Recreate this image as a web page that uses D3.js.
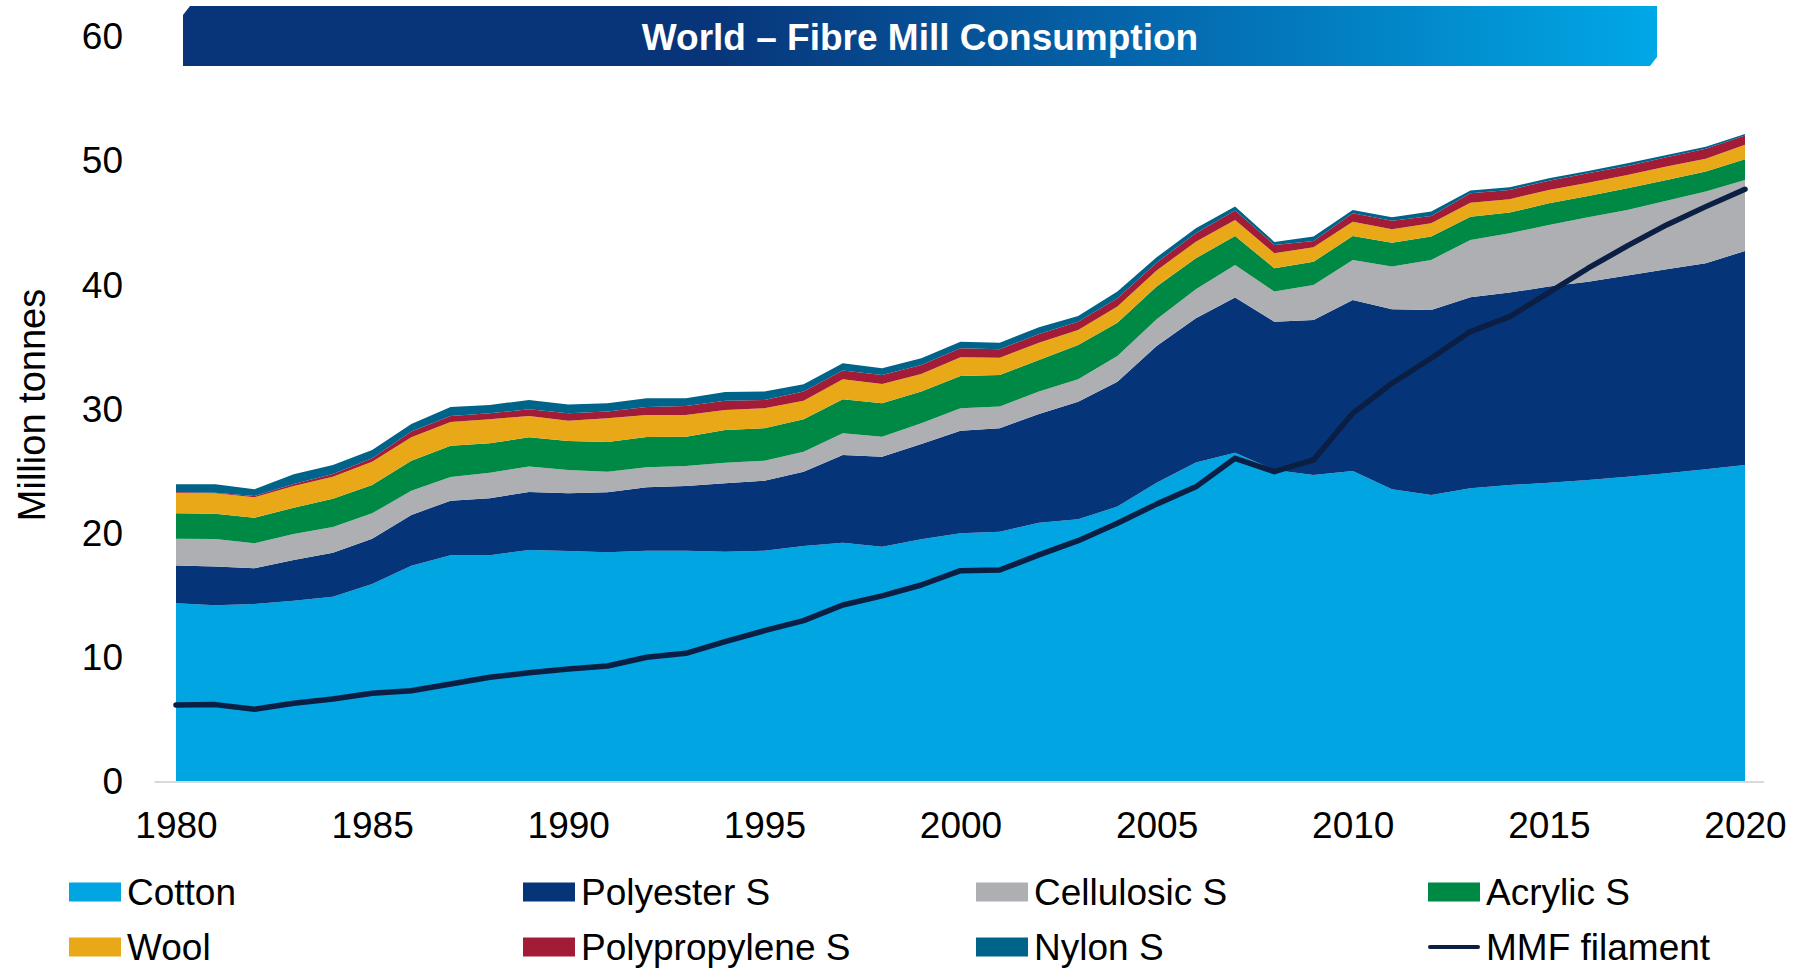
<!DOCTYPE html>
<html>
<head>
<meta charset="utf-8">
<script src="https://cdn.jsdelivr.net/npm/d3@7/dist/d3.min.js"></script>
<style>
  html, body { margin: 0; padding: 0; background: #ffffff; }
  svg { display: block; font-family: "Liberation Sans", Arial, sans-serif; }
</style>
</head>
<body>
<svg id="chart" width="1805" height="968"></svg>
<script>
// ---------- DATA ----------
const years = d3.range(1980, 2021);
const yTicks = [0, 10, 20, 30, 40, 50, 60];
const xTicks = [1980, 1985, 1990, 1995, 2000, 2005, 2010, 2015, 2020];

const cotton = [14.3, 14.15, 14.25, 14.52, 14.84, 15.86, 17.33, 18.17, 18.17, 18.6,
  18.52, 18.42, 18.54, 18.54, 18.46, 18.54, 18.92, 19.19, 18.86, 19.46,
  19.94, 20.07, 20.8, 21.07, 22.09, 24.02, 25.64, 26.43, 25.04, 24.64,
  24.96, 23.48, 23.03, 23.57, 23.83, 24.02, 24.24, 24.5, 24.77, 25.1, 25.44];
const polyesterS = [3.04, 3.12, 2.87, 3.27, 3.54, 3.65, 4.09, 4.4, 4.59, 4.67,
  4.64, 4.82, 5.11, 5.21, 5.51, 5.64, 5.98, 7.06, 7.25, 7.67,
  8.26, 8.33, 8.75, 9.47, 10.06, 11.0, 11.61, 12.49, 11.94, 12.48,
  13.77, 14.5, 14.89, 15.38, 15.49, 15.78, 15.96, 16.19, 16.43, 16.58, 17.23];
const cellulosicS = [2.17, 2.21, 2.01, 2.1, 2.07, 2.04, 1.94, 1.91, 2.06, 2.04,
  1.88, 1.66, 1.61, 1.61, 1.66, 1.61, 1.61, 1.75, 1.61, 1.67,
  1.8, 1.74, 1.8, 1.8, 2.07, 2.15, 2.34, 2.63, 2.42, 2.82,
  3.22, 3.43, 4.03, 4.61, 4.78, 4.97, 5.18, 5.28, 5.52, 5.77, 5.72];
const acrylicS = [2.04, 2.04, 2.07, 2.11, 2.28, 2.28, 2.43, 2.51, 2.37, 2.36,
  2.34, 2.39, 2.44, 2.36, 2.63, 2.61, 2.61, 2.73, 2.69, 2.55,
  2.61, 2.55, 2.55, 2.76, 2.68, 2.63, 2.49, 2.33, 1.88, 1.86,
  1.93, 1.93, 1.88, 1.87, 1.66, 1.74, 1.72, 1.75, 1.67, 1.61, 1.66];
const wool = [1.66, 1.64, 1.64, 1.75, 1.77, 1.88, 1.88, 1.91, 1.93, 1.72,
  1.63, 1.91, 1.77, 1.75, 1.61, 1.6, 1.5, 1.61, 1.55, 1.42,
  1.5, 1.39, 1.39, 1.21, 1.29, 1.29, 1.34, 1.29, 1.21, 1.17,
  1.15, 1.08, 1.07, 1.13, 1.08, 1.07, 1.07, 1.07, 1.07, 1.04, 1.18];
const polypropyleneS = [0.06, 0.05, 0.11, 0.16, 0.22, 0.27, 0.46, 0.49, 0.48, 0.53,
  0.59, 0.54, 0.64, 0.72, 0.75, 0.68, 0.73, 0.7, 0.73, 0.72,
  0.73, 0.68, 0.7, 0.67, 0.67, 0.64, 0.68, 0.75, 0.67, 0.51,
  0.67, 0.69, 0.59, 0.76, 0.74, 0.75, 0.76, 0.73, 0.75, 0.79, 0.73];
const nylonS = [0.62, 0.68, 0.53, 0.78, 0.72, 0.67, 0.61, 0.72, 0.67, 0.76,
  0.7, 0.67, 0.7, 0.62, 0.7, 0.67, 0.59, 0.59, 0.54, 0.54,
  0.53, 0.53, 0.54, 0.46, 0.54, 0.43, 0.4, 0.32, 0.24, 0.35,
  0.27, 0.27, 0.35, 0.21, 0.22, 0.19, 0.18, 0.21, 0.19, 0.18, 0.13];
const mmfFilament = [6.12, 6.15, 5.77, 6.26, 6.6, 7.06, 7.27, 7.81, 8.35, 8.72,
  9.02, 9.26, 9.96, 10.28, 11.22, 12.1, 12.91, 14.17, 14.9, 15.78,
  16.93, 16.99, 18.2, 19.35, 20.75, 22.29, 23.68, 25.98, 24.9, 25.85,
  29.6, 32.02, 34.03, 36.18, 37.38, 39.32, 41.28, 43.08, 44.77, 46.24, 47.64];

const seriesNames = ["Cotton", "Polyester S", "Cellulosic S", "Acrylic S", "Wool", "Polypropylene S", "Nylon S"];
const seriesValues = [cotton, polyesterS, cellulosicS, acrylicS, wool, polypropyleneS, nylonS];
const seriesColors = ["#00a5e1", "#063478", "#aeafb3", "#008945", "#e9a818", "#a21c37", "#006389"];
const lineName = "MMF filament";
const lineColor = "#0b1f45";
const titleText = "World \u2013 Fibre Mill Consumption";
const yTitle = "Million tonnes";

// ---------- BUILD ----------
const table = years.map((yr, i) => {
  const row = { year: yr };
  seriesNames.forEach((n, k) => { row[n] = seriesValues[k][i]; });
  return row;
});

const svg = d3.select("#chart");
const font = "'Liberation Sans', Arial, sans-serif";

const x = d3.scaleLinear().domain([1980, 2020]).range([176, 1745]);
const y = d3.scaleLinear().domain([0, 60]).range([781, 35.7]);

// Title banner
const defs = svg.append("defs");
const grad = defs.append("linearGradient").attr("id", "bannerGrad")
  .attr("x1", "0%").attr("x2", "100%").attr("y1", "0%").attr("y2", "0%");
grad.append("stop").attr("offset", "0%").attr("stop-color", "#08347a");
grad.append("stop").attr("offset", "36%").attr("stop-color", "#08357a");
grad.append("stop").attr("offset", "70%").attr("stop-color", "#046fb4");
grad.append("stop").attr("offset", "100%").attr("stop-color", "#00a8e6");

const bx0 = 183, bx1 = 1657, by0 = 6, by1 = 66, ch = 9;
svg.append("path")
  .attr("d", `M${bx0},${by0 + ch} L${bx0 + 7},${by0} L${bx1},${by0} L${bx1},${by1 - ch} L${bx1 - 7},${by1} L${bx0},${by1} Z`)
  .attr("fill", "url(#bannerGrad)");
svg.append("text")
  .attr("x", (bx0 + bx1) / 2).attr("y", 37)
  .attr("text-anchor", "middle").attr("dominant-baseline", "central")
  .attr("fill", "#ffffff").attr("font-weight", "bold")
  .attr("font-size", 37).attr("font-family", font)
  .text(titleText);

// Stacked areas
const stack = d3.stack().keys(seriesNames);
const stacked = stack(table);
const area = d3.area()
  .x(d => x(d.data.year))
  .y0(d => y(d[0]))
  .y1(d => y(d[1]));

svg.append("g").selectAll("path")
  .data(stacked)
  .join("path")
  .attr("d", area)
  .attr("fill", (d, i) => seriesColors[i]);

// Axis baseline
svg.append("line")
  .attr("x1", x(1979.45)).attr("x2", x(2020.48))
  .attr("y1", y(0) + 1).attr("y2", y(0) + 1)
  .attr("stroke", "#d9d9d9").attr("stroke-width", 2);

// MMF filament line
const line = d3.line().x((d, i) => x(years[i])).y(d => y(d));
svg.append("path")
  .attr("d", line(mmfFilament))
  .attr("fill", "none")
  .attr("stroke", lineColor)
  .attr("stroke-width", 5.5)
  .attr("stroke-linejoin", "round")
  .attr("stroke-linecap", "round");

// Y axis
const yAxis = d3.axisLeft(y).tickValues(yTicks).tickSize(0).tickPadding(0);
const gy = svg.append("g").attr("transform", "translate(123,0)").call(yAxis);
gy.select(".domain").remove();
gy.selectAll("text").attr("font-size", 37).attr("font-family", font).attr("fill", "#000").attr("dy", "0.35em");

// X axis
const xAxis = d3.axisBottom(x).tickValues(xTicks).tickFormat(d3.format("d")).tickSize(0).tickPadding(0);
const gx = svg.append("g").attr("transform", "translate(0,812)").call(xAxis);
gx.select(".domain").remove();
gx.selectAll("text").attr("font-size", 37).attr("font-family", font).attr("fill", "#000").attr("dy", "0.71em");

// Y title
svg.append("text")
  .attr("transform", "translate(32,405) rotate(-90)")
  .attr("text-anchor", "middle").attr("dominant-baseline", "central")
  .attr("font-size", 38).attr("font-family", font).attr("fill", "#000")
  .text(yTitle);

// Legend
const legendItems = seriesNames.map((n, i) => ({ name: n, color: seriesColors[i], type: "rect" }))
  .concat([{ name: lineName, color: lineColor, type: "line" }]);
const colX = [69, 523, 976, 1428];
const rowY = [892, 947];
const lg = svg.append("g");
legendItems.forEach((it, i) => {
  const cx = colX[i % 4], cy = rowY[Math.floor(i / 4)];
  if (it.type === "rect") {
    lg.append("rect").attr("x", cx).attr("y", cy - 9.5).attr("width", 52).attr("height", 19).attr("fill", it.color);
  } else {
    lg.append("line").attr("x1", cx + 2).attr("x2", cx + 50).attr("y1", cy).attr("y2", cy)
      .attr("stroke", it.color).attr("stroke-width", 4).attr("stroke-linecap", "round");
  }
  lg.append("text").attr("x", cx + 58).attr("y", cy)
    .attr("dominant-baseline", "central")
    .attr("font-size", 37).attr("font-family", font).attr("fill", "#000")
    .text(it.name);
});
</script>
</body>
</html>
